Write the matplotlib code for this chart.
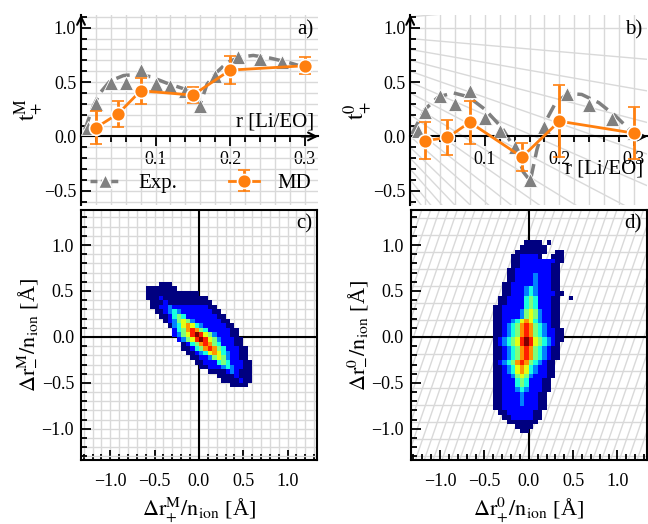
import numpy as np
import matplotlib.pyplot as plt
from matplotlib.lines import Line2D
from matplotlib.ticker import MultipleLocator

plt.rcParams['font.family'] = 'serif'
plt.rcParams['font.serif'] = ['Liberation Serif', 'DejaVu Serif']
plt.rcParams['mathtext.fontset'] = 'stix'
plt.rcParams['font.size'] = 13

ORANGE = '#ff7f0e'
GRAY = '#808080'
GRID = '#d9d9d9'

# experimental transference numbers (barycentric M and solvent-fixed 0 frame)
r_exp = [0.01, 0.02, 0.04, 0.06, 0.08, 0.10, 0.12, 0.14, 0.16, 0.18, 0.21, 0.24, 0.27, 0.30]
tM_exp = [0.08, 0.30, 0.49, 0.49, 0.61, 0.48, 0.46, 0.42, 0.28, 0.56, 0.73, 0.71, 0.68, 0.66]
t0_exp = [0.05, 0.22, 0.37, 0.30, 0.42, 0.17, 0.05, -0.10, -0.40, 0.09, 0.39, 0.29, 0.16, 0.03]

# smooth guide-to-the-eye curves through the experimental data
r_fit_M = [0.005, 0.0165, 0.0255, 0.039, 0.057, 0.075, 0.093, 0.115, 0.137, 0.153, 0.160,
           0.169, 0.182, 0.196, 0.213, 0.231, 0.254, 0.276, 0.298]
t_fit_M = [0.06, 0.28, 0.40, 0.51, 0.56, 0.57, 0.55, 0.49, 0.44, 0.39, 0.30,
           0.48, 0.59, 0.68, 0.73, 0.745, 0.72, 0.685, 0.64]
r_fit_0 = [0.002, 0.020, 0.038, 0.058, 0.078, 0.100, 0.123, 0.141, 0.152, 0.161,
           0.170, 0.181, 0.195, 0.212, 0.230, 0.253, 0.275, 0.302]
t_fit_0 = [0.02, 0.25, 0.365, 0.40, 0.365, 0.25, 0.08, -0.12, -0.33, -0.41,
           -0.12, 0.13, 0.31, 0.395, 0.386, 0.31, 0.19, 0.01]

# MD results
r_md = [0.02, 0.05, 0.08, 0.15, 0.20, 0.30]
tM_md = [0.08, 0.21, 0.42, 0.38, 0.61, 0.65]
tM_err = [0.15, 0.12, 0.12, 0.07, 0.13, 0.08]
t0_md = [-0.04, -0.01, 0.13, -0.19, 0.14, 0.03]
t0_err = [0.17, 0.16, 0.20, 0.13, 0.33, 0.24]

# 2D displacement histograms, 0.05 bins, rows from the top.
# each row: (first filled column, colour levels 1..9, '.' = empty bin)
hist_M_left, hist_M_top, hist_M_ncol = -0.6, 0.6, 24
hist_M = [
    (3, "111"),
    (0, "1111111"),
    (0, "111111111111"),
    (0, "11121111111111"),
    (1, "11121111111111"),
    (1, "112232222222211"),
    (2, "112343222222211"),
    (3, "112454222222211"),
    (4, "123565322222211"),
    (5, "134676432222211"),
    (6, "245787542222211"),
    (6, "235689865322211"),
    (7, "235689865322211"),
    (8, "12457875422211"),
    (8, "112457875422211"),
    (9, "11234676432211"),
    (10, "1122356532211"),
    (11, "1122245422211"),
    (12, "112223432211"),
    (14, "1111232111"),
    (16, "11112111"),
    (17, "1111211"),
    (19, "1111"),
]
hist_0_left, hist_0_top, hist_0_ncol = -0.4, 1.05, 18
hist_0 = [
    (7, "1111.1"),
    (6, "111111"),
    (5, "1111111..11"),
    (4, "1122221..111"),
    (4, "112222222211"),
    (4, "11222222211"),
    (3, "112222222211"),
    (3, "112222322211"),
    (3, "112222322211"),
    (2, "1122222322211"),
    (2, "1122234322211"),
    (2, "11222343222211"),
    (1, "11222245422211..1"),
    (1, "11222245422211"),
    (0, "112222245422211"),
    (0, "112222356532211"),
    (0, "112222356532211"),
    (0, "112234676432211"),
    (0, "112345787543211"),
    (0, "1123457875432211"),
    (0, "1123457875432211"),
    (0, "1234568986543211"),
    (0, "123456898654321"),
    (0, "112345787543211"),
    (0, "112345787543211"),
    (0, "112345787543211"),
    (0, "12345787543211"),
    (0, "11234676432211"),
    (0, "11234676432211"),
    (0, "11223565322211"),
    (0, "1122245422211"),
    (0, "1122245422211"),
    (0, "1122234322211"),
    (0, "112222322211"),
    (0, "112222322211"),
    (0, "112222322211"),
    (0, "112222222211"),
    (1, "1122222211"),
    (2, "112222211"),
    (3, "1111111"),
    (5, "1111"),
    (6, "11"),
]
bin_w = 0.05


def to_grid(rows, ncol):
    z = np.full((len(rows), ncol), np.nan)
    for i, (start, levels) in enumerate(rows):
        for j, ch in enumerate(levels):
            if ch != '.':
                z[i, start + j] = float(ch)
    return np.ma.masked_invalid(z)


def style_top(ax, ylabel, tag, xlab_y):
    ax.set_xlim(0, 0.318)
    ax.set_ylim(-0.63, 1.12)
    ax.spines['left'].set_position(('data', 0))
    ax.spines['bottom'].set_position(('data', 0))
    ax.spines['top'].set_visible(False)
    ax.spines['right'].set_visible(False)
    for s in ('left', 'bottom'):
        ax.spines[s].set_linewidth(1.5)
    ax.set_xticks([0.1, 0.2, 0.3])
    ax.set_yticks([-0.5, 0.0, 0.5, 1.0])
    ax.xaxis.set_minor_locator(MultipleLocator(0.02))
    ax.yaxis.set_minor_locator(MultipleLocator(0.1))
    ax.tick_params(axis='y', which='both', direction='in', width=1.3)
    ax.tick_params(axis='x', which='both', direction='out', width=1.3)
    ax.tick_params(which='major', length=7)
    ax.tick_params(which='minor', length=4)
    ax.set_ylabel(ylabel, fontsize=17, labelpad=-1)
    ax.annotate('', xy=(0, 1), xycoords=('data', 'axes fraction'), xytext=(0, 0.93),
                arrowprops=dict(arrowstyle='->', color='k', lw=1.5, shrinkA=0, shrinkB=0,
                                mutation_scale=14))
    ax.annotate('', xy=(1, 0), xycoords=('axes fraction', 'data'), xytext=(0.93, 0),
                arrowprops=dict(arrowstyle='->', color='k', lw=1.5, shrinkA=0, shrinkB=0,
                                mutation_scale=14))
    ax.text(0.98, 0.92, tag, transform=ax.transAxes, ha='right', va='center', fontsize=15)
    ax.text(0.312, xlab_y, 'r [Li/EO]', ha='right', va='center', fontsize=15, zorder=6)


def style_bottom(ax, xlabel, ylabel, tag):
    ax.set_xlim(-1.33, 1.33)
    ax.set_ylim(-1.34, 1.38)
    for s in ax.spines.values():
        s.set_linewidth(1.5)
    ax.set_xticks([-1.0, -0.5, 0.0, 0.5, 1.0])
    ax.set_yticks([-1.0, -0.5, 0.0, 0.5, 1.0])
    ax.xaxis.set_minor_locator(MultipleLocator(0.1))
    ax.yaxis.set_minor_locator(MultipleLocator(0.1))
    ax.tick_params(which='both', direction='in', top=False, right=False, width=1.3)
    ax.tick_params(which='major', length=7)
    ax.tick_params(which='minor', length=4)
    ax.tick_params(axis='x', which='major', pad=9)
    ax.tick_params(axis='y', which='major', pad=5)
    ax.axhline(0, color='k', lw=1.5, zorder=1.5)
    ax.axvline(0, color='k', lw=1.5, zorder=1.5)
    ax.set_xlabel(xlabel, fontsize=16)
    ax.set_ylabel(ylabel, fontsize=16, labelpad=2)
    ax.text(0.98, 0.945, tag, transform=ax.transAxes, ha='right', va='center', fontsize=15)


def draw_hist(ax, rows, ncol, left, top):
    z = to_grid(rows, ncol)
    xe = left + bin_w * np.arange(ncol + 1)
    ye = top - bin_w * np.arange(len(rows) + 1)
    ax.pcolormesh(xe, ye, z, cmap='jet', vmin=1, vmax=9, zorder=2)


fig = plt.figure(figsize=(6.48, 5.24), dpi=100)
ax_a = fig.add_axes([0.125, 0.609, 0.366, 0.363])
ax_b = fig.add_axes([0.633, 0.609, 0.366, 0.363])
ax_c = fig.add_axes([0.125, 0.122, 0.364, 0.477])
ax_d = fig.add_axes([0.634, 0.122, 0.364, 0.477])

# a) barycentric frame
ax_a.grid(which='both', color=GRID, lw=1.0, zorder=0)
ax_a.set_axisbelow(True)
ax_a.plot(r_fit_M, t_fit_M, color=GRAY, lw=2.5, ls=(0, (4, 2)), zorder=2)
ax_a.plot(r_exp, tM_exp, '^', color=GRAY, ms=10, mec='white', mew=0.6, zorder=3)
md_a = ax_a.errorbar(r_md, tM_md, yerr=tM_err, color=ORANGE, marker='o', ms=10, mec='white',
                     mew=1.2, lw=2, elinewidth=2, capsize=4, capthick=2, zorder=4)
style_top(ax_a, r'$\mathrm{t}_{+}^{\mathrm{M}}$', 'a)', 0.13)
exp_handle = Line2D([], [], color=GRAY, lw=2.5, ls=(0, (2, 1)), marker='^', ms=10, mec='white')
ax_a.legend([exp_handle, md_a], ['Exp.', 'MD'], ncol=2, frameon=False, fontsize=15,
            loc='center', bbox_to_anchor=(0.505, 0.115), columnspacing=2.5, handlelength=1.4,
            handletextpad=0.9)

# b) solvent-fixed frame, lines of constant t+^M mapped into this frame
ax_b.grid(axis='x', which='both', color=GRID, lw=1.0, zorder=0)
ax_b.set_axisbelow(True)
r_line = np.linspace(0, 0.32, 60)
for tm in np.arange(-1.5, 1.55, 0.1):
    ax_b.plot(r_line, 1 - (1 - tm) * (1 + 6 * r_line), color=GRID, lw=1.0, zorder=0.5)
ax_b.plot(r_fit_0, t_fit_0, color=GRAY, lw=2.5, ls=(0, (4, 2)), zorder=2)
ax_b.plot(r_exp, t0_exp, '^', color=GRAY, ms=10, mec='white', mew=0.6, zorder=3)
ax_b.errorbar(r_md, t0_md, yerr=t0_err, color=ORANGE, marker='o', ms=10, mec='white',
              mew=1.2, lw=2, elinewidth=2, capsize=4, capthick=2, zorder=4)
style_top(ax_b, r'$\mathrm{t}_{+}^{0}$', 'b)', -0.30)

# c) displacement correlation, barycentric frame
ax_c.grid(which='both', color=GRID, lw=1.0, zorder=0)
ax_c.set_axisbelow(True)
draw_hist(ax_c, hist_M, hist_M_ncol, hist_M_left, hist_M_top)
style_bottom(ax_c, r'$\Delta\mathrm{r}_{+}^{\mathrm{M}}/\mathrm{n}_{\mathrm{ion}}$ [Å]',
             r'$\Delta\mathrm{r}_{-}^{\mathrm{M}}/\mathrm{n}_{\mathrm{ion}}$ [Å]', 'c)')

# d) solvent-fixed frame, sheared grid
y_line = np.array([-1.6, 1.6])
for c0 in np.arange(-3.0, 3.05, 0.1):
    ax_d.plot(c0 + y_line / 2.8, y_line, color=GRID, lw=1.0, zorder=0.5)
for yh in np.arange(-7, 8) * 0.185:
    ax_d.axhline(yh, color=GRID, lw=1.0, zorder=0.5)
draw_hist(ax_d, hist_0, hist_0_ncol, hist_0_left, hist_0_top)
style_bottom(ax_d, r'$\Delta\mathrm{r}_{+}^{0}/\mathrm{n}_{\mathrm{ion}}$ [Å]',
             r'$\Delta\mathrm{r}_{-}^{0}/\mathrm{n}_{\mathrm{ion}}$ [Å]', 'd)')

fig.savefig('out.png', dpi=100)
